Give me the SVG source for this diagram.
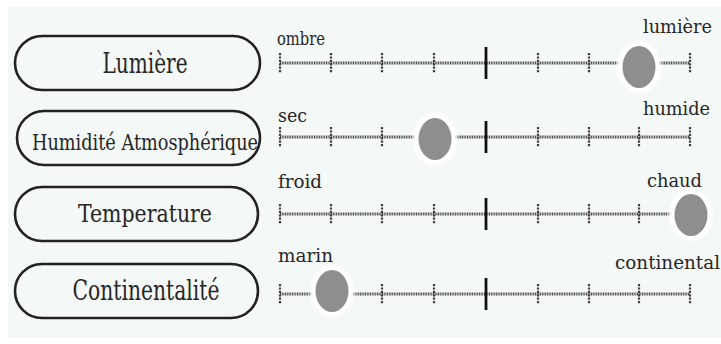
<svg xmlns="http://www.w3.org/2000/svg" width="721" height="344" viewBox="0 0 721 344">
  <defs>
    <filter id="soft" x="-50%" y="-50%" width="200%" height="200%">
      <feGaussianBlur stdDeviation="1.5"/>
    </filter>
    <style>
      .pill { fill: #f4f8f6; stroke: #222; stroke-width: 2.6; }
      .name { font-family: "DejaVu Serif Condensed", "DejaVu Serif", serif; fill: #262626; text-anchor: middle; }
      .end { font-family: "DejaVu Serif Condensed", "DejaVu Serif", serif; font-size: 19px; fill: #262626; }
      .axis { stroke: #4a4a4a; stroke-width: 2.8; stroke-dasharray: 1 0.7; fill: none; }
      .tick { stroke: #3f3f3f; stroke-width: 2.2; stroke-dasharray: 2.2 1.2; }
      .mid { stroke: #111; stroke-width: 2.8; }
      .halo { fill: #ffffff; filter: url(#soft); }
      .dot { fill: #8e8e8e; }
    </style>
  </defs>

  <rect x="8" y="7" width="713" height="331" fill="#f4f8f6"/>

  <!-- Lumière -->
  <g id="lumiere">
    <rect class="pill" x="15" y="36" width="245" height="54" rx="27"/>
    <text class="name" x="145" y="73" font-size="27" textLength="85" lengthAdjust="spacingAndGlyphs">Lumière</text>
    <text class="end" x="277" y="45" textLength="48" lengthAdjust="spacingAndGlyphs">ombre</text>
    <text class="end" x="643" y="33" textLength="69" lengthAdjust="spacingAndGlyphs">lumière</text>
    <g transform="translate(0,63)">
      <line class="axis" x1="280" y1="0" x2="690" y2="0"/>
      <g class="tick">
        <line x1="280" y1="-10" x2="280" y2="10"/><line x1="331" y1="-10" x2="331" y2="10"/>
        <line x1="382" y1="-10" x2="382" y2="10"/><line x1="434" y1="-10" x2="434" y2="10"/>
        <line x1="538" y1="-10" x2="538" y2="10"/><line x1="589" y1="-10" x2="589" y2="10"/>
        <line x1="690" y1="-10" x2="690" y2="10"/>
      </g>
      <line class="mid" x1="486" y1="-16" x2="486" y2="16"/>
      <ellipse class="halo" cx="639" cy="4" rx="22" ry="26"/>
      <ellipse class="dot" cx="639" cy="4" rx="16.5" ry="21"/>
    </g>
  </g>

  <!-- Humidité Atmosphérique -->
  <g id="humidite">
    <rect class="pill" x="17" y="111" width="243" height="54" rx="27"/>
    <text class="name" x="145" y="150" font-size="23" textLength="226" lengthAdjust="spacingAndGlyphs">Humidité Atmosphérique</text>
    <text class="end" x="278" y="122" textLength="29" lengthAdjust="spacingAndGlyphs">sec</text>
    <text class="end" x="643" y="115" textLength="67" lengthAdjust="spacingAndGlyphs">humide</text>
    <g transform="translate(0,137)">
      <line class="axis" x1="280" y1="0" x2="690" y2="0"/>
      <g class="tick">
        <line x1="280" y1="-10" x2="280" y2="10"/><line x1="331" y1="-10" x2="331" y2="10"/>
        <line x1="382" y1="-10" x2="382" y2="10"/><line x1="538" y1="-10" x2="538" y2="10"/>
        <line x1="589" y1="-10" x2="589" y2="10"/><line x1="639" y1="-10" x2="639" y2="10"/>
        <line x1="690" y1="-10" x2="690" y2="10"/>
      </g>
      <line class="mid" x1="486" y1="-16" x2="486" y2="16"/>
      <ellipse class="halo" cx="435" cy="2" rx="22" ry="26"/>
      <ellipse class="dot" cx="435" cy="2" rx="16.5" ry="21"/>
    </g>
  </g>

  <!-- Temperature -->
  <g id="temperature">
    <rect class="pill" x="15" y="187" width="243" height="54" rx="27"/>
    <text class="name" x="145" y="222" font-size="25" textLength="134" lengthAdjust="spacingAndGlyphs">Temperature</text>
    <text class="end" x="278" y="188" textLength="44" lengthAdjust="spacingAndGlyphs">froid</text>
    <text class="end" x="647" y="187" textLength="55" lengthAdjust="spacingAndGlyphs">chaud</text>
    <g transform="translate(0,214)">
      <line class="axis" x1="280" y1="0" x2="690" y2="0"/>
      <g class="tick">
        <line x1="280" y1="-10" x2="280" y2="10"/><line x1="331" y1="-10" x2="331" y2="10"/>
        <line x1="382" y1="-10" x2="382" y2="10"/><line x1="434" y1="-10" x2="434" y2="10"/>
        <line x1="538" y1="-10" x2="538" y2="10"/><line x1="589" y1="-10" x2="589" y2="10"/>
        <line x1="639" y1="-10" x2="639" y2="10"/>
      </g>
      <line class="mid" x1="486" y1="-16" x2="486" y2="16"/>
      <ellipse class="halo" cx="691" cy="1" rx="22" ry="26"/>
      <ellipse class="dot" cx="691" cy="1" rx="16.5" ry="21"/>
    </g>
  </g>

  <!-- Continentalité -->
  <g id="continentalite">
    <rect class="pill" x="15" y="264" width="243" height="54" rx="27"/>
    <text class="name" x="146" y="300" font-size="27" textLength="147" lengthAdjust="spacingAndGlyphs">Continentalité</text>
    <text class="end" x="278" y="262" textLength="55" lengthAdjust="spacingAndGlyphs">marin</text>
    <text class="end" x="615" y="269" textLength="105" lengthAdjust="spacingAndGlyphs">continental</text>
    <g transform="translate(0,294)">
      <line class="axis" x1="280" y1="0" x2="690" y2="0"/>
      <g class="tick">
        <line x1="280" y1="-10" x2="280" y2="10"/><line x1="382" y1="-10" x2="382" y2="10"/>
        <line x1="434" y1="-10" x2="434" y2="10"/><line x1="538" y1="-10" x2="538" y2="10"/>
        <line x1="589" y1="-10" x2="589" y2="10"/><line x1="639" y1="-10" x2="639" y2="10"/>
        <line x1="690" y1="-10" x2="690" y2="10"/>
      </g>
      <line class="mid" x1="486" y1="-16" x2="486" y2="16"/>
      <ellipse class="halo" cx="332" cy="-3" rx="22" ry="26"/>
      <ellipse class="dot" cx="332" cy="-3" rx="16.5" ry="21"/>
    </g>
  </g>
</svg>
